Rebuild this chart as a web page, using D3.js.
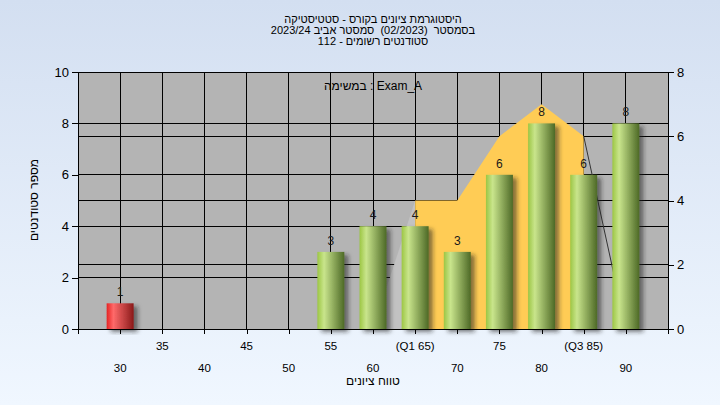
<!DOCTYPE html>
<html><head><meta charset="utf-8">
<script src="https://cdn.jsdelivr.net/npm/d3@7"></script>
<style>html,body{margin:0;padding:0;overflow:hidden;}svg{display:block;} text{white-space:pre;}</style>
</head><body>
<svg id="c" width="720" height="405"></svg>
<script>
// ---- data ----
const titleLines = ["היסטוגרמת ציונים בקורס - סטטיסטיקה", "בסמסטר  (02/2023)  סמסטר אביב 2023/24", "סטודנטים רשומים - 112"];
const legendText = "במשימה : Exam_A";
const xTitle = "טווח ציונים";
const yTitle = "מספר סטודנטים";
const categories = ["30","35","40","45","50","55","60","(Q1 65)","70","75","80","(Q3 85)","90"];
const counts = [1,0,0,0,0,3,4,4,3,6,8,6,8];
const barKind = ["fail","pass","pass","pass","pass","pass","pass","pass","pass","pass","pass","pass","pass"];
const iqrIdx = [7,8,9,10,11];
const iqrVals = [4,4,6,7,6];
const leftTailIdx = [6,7];
const leftTailVals = [0,4];
const rightTailIdx = [11,12];
const rightTailVals = [6,0];
const leftTicks = [0,2,4,6,8,10];
const rightTicks = [0,2,4,6,8];

// ---- layout ----
const L = 78, R = 668, T = 72, B = 329;
const svg = d3.select("#c");
const defs = svg.append("defs");
const bgG = defs.append("linearGradient").attr("id","bg").attr("x1",0).attr("y1",0).attr("x2",0).attr("y2",1);
bgG.append("stop").attr("offset","0%").attr("stop-color","#d3dff1");
bgG.append("stop").attr("offset","100%").attr("stop-color","#f0f7ff");
function barGrad(id, c0, c1, c2){
  const g = defs.append("linearGradient").attr("id",id).attr("x1",0).attr("y1",0).attr("x2",1).attr("y2",0);
  g.append("stop").attr("offset","0%").attr("stop-color",c0);
  g.append("stop").attr("offset","25%").attr("stop-color",c1);
  g.append("stop").attr("offset","100%").attr("stop-color",c2);
}
barGrad("gpass","#9cc644","#c9e58c","#4d6926");
barGrad("gfail","#e52424","#ff6a6a","#8a1a1a");
const f = defs.append("filter").attr("id","sh").attr("x","-20%").attr("y","-20%").attr("width","160%").attr("height","140%");
f.append("feDropShadow").attr("dx",4).attr("dy",3).attr("stdDeviation",2).attr("flood-color","#222").attr("flood-opacity",0.55);

svg.append("rect").attr("width",720).attr("height",405).attr("fill","url(#bg)");

const x = d3.scaleLinear().domain([0, categories.length + 1]).range([L, R]);
const yL = d3.scaleLinear().domain([0,10]).range([B, T]);
const yR = d3.scaleLinear().domain([0,8]).range([B, T]);
const font = "Liberation Sans, Arial, sans-serif";

svg.append("rect").attr("x",L).attr("y",T).attr("width",R-L).attr("height",B-T).attr("fill","#b4b4b4");

// gridlines
const grid = svg.append("g").attr("stroke","#000").attr("stroke-width",1).attr("shape-rendering","crispEdges");
leftTicks.forEach(v=>grid.append("line").attr("x1",L).attr("x2",R).attr("y1",yL(v)).attr("y2",yL(v)));
rightTicks.forEach(v=>grid.append("line").attr("x1",L).attr("x2",R).attr("y1",yR(v)).attr("y2",yR(v)));
d3.range(0, categories.length + 2).forEach(i=>grid.append("line").attr("x1",x(i)).attr("x2",x(i)).attr("y1",T).attr("y2",B));

// areas (right axis)
const area = d3.area().x(d=>x(d[0]+1)).y0(yR(0)).y1(d=>yR(d[1]));
svg.append("path").attr("d", area(leftTailIdx.map((d,i)=>[d,leftTailVals[i]]))).attr("fill","#c2c2c2");
svg.append("path").attr("d", area(iqrIdx.map((d,i)=>[d,iqrVals[i]]))).attr("fill","#ffcc55");
svg.append("path").attr("d", d3.line().x(d=>x(d[0]+1)).y(d=>yR(d[1]))(rightTailIdx.map((d,i)=>[d,rightTailVals[i]])))
  .attr("fill","none").attr("stroke","#333").attr("stroke-width",1);

// bars
const bw = 0.64;
const bars = categories.map((c,i)=>({i, v:counts[i], k:barKind[i]})).filter(d=>d.v>0);
svg.append("g").selectAll("rect").data(bars).join("rect")
  .attr("x", d=>x(d.i+1 - bw/2)).attr("width", x(bw)-x(0))
  .attr("y", d=>yL(d.v)).attr("height", d=>yL(0)-yL(d.v))
  .attr("fill", d=> d.k==="fail" ? "url(#gfail)" : "url(#gpass)")
  .attr("filter","url(#sh)");
svg.append("g").selectAll("text").data(bars).join("text")
  .attr("x", d=>x(d.i+1)).attr("y", d=>yL(d.v)-7)
  .attr("text-anchor","middle").attr("font-family",font).attr("font-size",12).attr("fill","#1a1a1a")
  .text(d=>d.v);

// axes
const axL = svg.append("g").attr("transform",`translate(${L},0)`).call(d3.axisLeft(yL).tickValues(leftTicks).tickSize(6).tickPadding(3));
const axR = svg.append("g").attr("transform",`translate(${R},0)`).call(d3.axisRight(yR).tickValues(rightTicks).tickSize(6).tickPadding(3));
const axB = svg.append("g").attr("transform",`translate(0,${B})`).call(d3.axisBottom(x).tickValues(d3.range(0,categories.length+2)).tickSize(5).tickFormat(""));
[axL,axR,axB].forEach(a=>{
  a.selectAll("path,line").attr("stroke","#000").attr("shape-rendering","crispEdges");
  a.selectAll("text").attr("font-family",font).attr("font-size",13).attr("fill","#000");
});
axL.select("path").attr("d",`M0,${T}V${B+4}`);
axR.select("path").attr("d",`M0,${T}V${B+4}`);
axB.select("path").attr("d",`M${L-6},0H${R+4}`);

// x category labels (staggered)
svg.append("g").selectAll("text").data(categories).join("text")
  .attr("x",(d,i)=>x(i+1)).attr("y",(d,i)=> i%2===1 ? 350 : 372)
  .attr("text-anchor","middle").attr("font-family",font).attr("font-size",11.5).attr("fill","#000")
  .text(d=>d);

// titles
svg.append("g").selectAll("text").data(titleLines).join("text")
  .attr("x",(L+R)/2).attr("y",(d,i)=>23+i*11).attr("text-anchor","middle").attr("direction","rtl")
  .attr("font-family",font).attr("font-size",11).attr("fill","#000").text(d=>d);
svg.append("text").attr("x",(L+R)/2).attr("y",90).attr("text-anchor","middle")
  .attr("font-family",font).attr("font-size",12).attr("fill","#000").text(legendText);
svg.append("text").attr("x",(L+R)/2).attr("y",385).attr("text-anchor","middle").attr("direction","rtl")
  .attr("font-family",font).attr("font-size",12).attr("fill","#000").text(xTitle);
svg.append("text").attr("transform","translate(38,200) rotate(-90)").attr("text-anchor","middle").attr("direction","rtl")
  .attr("font-family",font).attr("font-size",12).attr("fill","#000").text(yTitle);
</script>
</body></html>
